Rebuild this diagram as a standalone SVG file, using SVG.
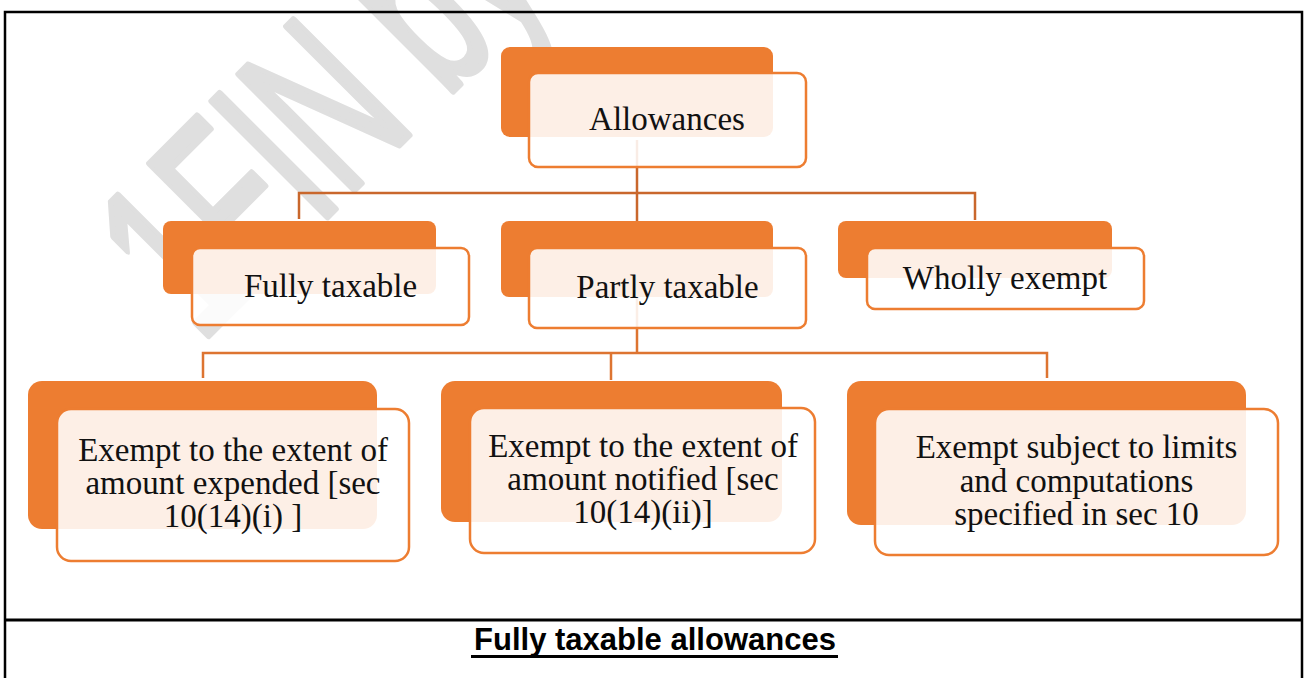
<svg xmlns="http://www.w3.org/2000/svg" width="1306" height="678" viewBox="0 0 1306 678">
  <style>
    .back { fill: #ed7d31; }
    .front { fill: #ffffff; fill-opacity: 0.88; stroke: #ed7d31; stroke-width: 2.5; }
    .lbl { font-family: "Liberation Serif", "Times New Roman", serif; font-size: 33px; fill: #111111; text-anchor: middle; }
    .wire { fill: none; stroke-width: 2.5; }
    .frame { fill: none; stroke: #000000; stroke-width: 2.5; }
  </style>

  <rect x="0" y="0" width="1306" height="678" fill="#ffffff"/>

  <!-- watermark behind the chart -->
  <g id="watermark">
    <text transform="translate(200,344) rotate(-45) scale(0.6,1)" font-family="Liberation Sans, Arial, sans-serif" font-size="237" fill="#dfdfdf" stroke="#dfdfdf" stroke-width="7" stroke-linejoin="round" stroke-linecap="round">1FIN by</text>
  </g>

  <!-- page frame and separator -->
  <g id="frame">
    <path class="frame" d="M5 678 V12 H1302 V678"/>
    <line x1="4" y1="620" x2="1303" y2="620" stroke="#000" stroke-width="3"/>
  </g>

  <!-- connectors -->
  <g id="connectors">
    <path class="wire" stroke="#c9672c" d="M637 140 V193 M299 219 V193 H975 V220 M637 193 V221"/>
    <path class="wire" stroke="#dd7431" d="M637 297 V353 M203 378 V353 H1047 V378 M611 353 V380"/>
  </g>

  <g id="allowances">
    <rect class="back" x="501" y="47" width="272" height="90" rx="9"/>
    <rect class="front" x="529" y="73" width="277" height="94" rx="9"/>
    <text class="lbl" x="667" y="130">Allowances</text>
  </g>

  <g id="fully-taxable">
    <rect class="back" x="163" y="221" width="273" height="73" rx="8"/>
    <rect class="front" x="192" y="248" width="277" height="77" rx="8"/>
    <text class="lbl" x="330.5" y="297">Fully taxable</text>
  </g>

  <g id="partly-taxable">
    <rect class="back" x="501" y="221" width="272" height="76" rx="8"/>
    <rect class="front" x="529" y="248" width="277" height="80" rx="8"/>
    <text class="lbl" x="667.5" y="298">Partly taxable</text>
  </g>

  <g id="wholly-exempt">
    <rect class="back" x="838" y="221" width="274" height="57" rx="8"/>
    <rect class="front" x="867" y="248" width="277" height="61" rx="8"/>
    <text class="lbl" x="1005" y="289">Wholly exempt</text>
  </g>

  <g id="exempt-expended">
    <rect class="back" x="28" y="381" width="349" height="148" rx="14"/>
    <rect class="front" x="57" y="409" width="352" height="152" rx="14"/>
    <text class="lbl" x="233" y="461">Exempt to the extent of</text>
    <text class="lbl" x="233" y="494">amount expended [sec</text>
    <text class="lbl" x="233" y="527">10(14)(i) ]</text>
  </g>

  <g id="exempt-notified">
    <rect class="back" x="441" y="381" width="341" height="141" rx="14"/>
    <rect class="front" x="470" y="408" width="345" height="145" rx="14"/>
    <text class="lbl" x="643" y="457">Exempt to the extent of</text>
    <text class="lbl" x="643" y="490">amount notified [sec</text>
    <text class="lbl" x="643" y="523">10(14)(ii)]</text>
  </g>

  <g id="exempt-limits">
    <rect class="back" x="847" y="381" width="399" height="144" rx="14"/>
    <rect class="front" x="875" y="409" width="403" height="146" rx="14"/>
    <text class="lbl" x="1076.5" y="458">Exempt subject to limits</text>
    <text class="lbl" x="1076.5" y="492">and computations</text>
    <text class="lbl" x="1076.5" y="525">specified in sec 10</text>
  </g>

  <g id="title">
    <text x="655" y="650" font-family="Liberation Sans, Arial, sans-serif" font-weight="bold" font-size="31" text-anchor="middle" fill="#000">Fully taxable allowances</text>
    <rect x="471" y="655" width="367" height="3" fill="#000"/>
  </g>
</svg>
